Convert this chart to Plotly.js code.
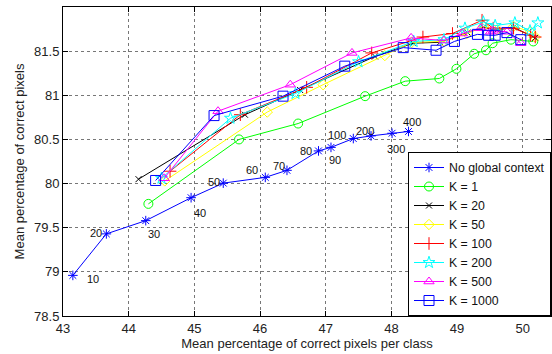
<!DOCTYPE html>
<html>
<head>
<meta charset="utf-8">
<script src="https://cdn.plot.ly/plotly-3.0.1.min.js"></script>
<style>html,body{margin:0;padding:0;background:#fff;}#chart{width:552px;height:354px;}</style>
</head>
<body>
<div id="chart"></div>
<script>
// ---- data ----
const ngcX = [43.15, 43.66, 44.26, 44.95, 45.44, 46.08, 46.41, 46.89, 47.08, 47.42, 47.69, 48.01, 48.26];
const ngcY = [78.96, 79.43, 79.58, 79.84, 80.005, 80.07, 80.15, 80.37, 80.41, 80.51, 80.54, 80.57, 80.59];
const ngcLabels = ['10', '20', '30', '40', '50', '60', '70', '80', '90', '100', '200', '300', '400'];

const k1X = [44.30, 45.68, 46.58, 47.60, 48.21, 48.73, 48.99, 49.26, 49.44, 49.54, 49.82, 50.16];
const k1Y = [79.77, 80.50, 80.68, 80.99, 81.16, 81.19, 81.30, 81.47, 81.51, 81.59, 81.63, 81.61];

const k20X = [44.15, 45.77, 46.61, 47.75, 48.33, 48.74, 49.16, 49.40, 49.61, 49.86, 50.19];
const k20Y = [80.05, 80.78, 81.06, 81.44, 81.59, 81.60, 81.71, 81.77, 81.74, 81.77, 81.65];

const k50X = [44.55, 46.11, 46.96, 47.90, 48.31, 48.80, 49.15, 49.40, 49.61, 49.86, 50.12, 50.19];
const k50Y = [80.03, 80.81, 81.12, 81.45, 81.60, 81.61, 81.70, 81.78, 81.74, 81.78, 81.72, 81.66];

const k100X = [44.63, 45.70, 46.71, 47.70, 48.48, 48.93, 49.38, 49.55, 49.86, 50.12, 50.19];
const k100Y = [80.14, 80.78, 81.09, 81.48, 81.66, 81.70, 81.85, 81.76, 81.76, 81.68, 81.66];

const k200X = [44.50, 45.55, 46.54, 47.50, 48.34, 48.80, 49.12, 49.40, 49.58, 49.88, 50.11, 50.23];
const k200Y = [80.06, 80.74, 81.02, 81.38, 81.61, 81.63, 81.76, 81.83, 81.79, 81.82, 81.73, 81.82];

const k500X = [44.54, 45.36, 46.46, 47.40, 48.30, 48.80, 49.08, 49.36, 49.51, 49.55, 49.76, 49.97];
const k500Y = [80.06, 80.82, 81.12, 81.48, 81.65, 81.62, 81.70, 81.76, 81.72, 81.73, 81.72, 81.59];

const k1000X = [44.41, 45.30, 46.35, 47.29, 48.18, 48.68, 48.96, 49.31, 49.48, 49.58, 49.76, 49.97];
const k1000Y = [80.035, 80.77, 80.99, 81.33, 81.54, 81.51, 81.61, 81.69, 81.68, 81.68, 81.71, 81.63];

const seriesNames = ['No global context', 'K = 1', 'K = 20', 'K = 50', 'K = 100', 'K = 200', 'K = 500', 'K = 1000'];
const xTicks = [43, 44, 45, 46, 47, 48, 49, 50];
const yTicks = [78.5, 79, 79.5, 80, 80.5, 81, 81.5, 82];

// ---- styles ----
const styles = [
  {c: '#0000ff', s: 'asterisk-open', z: 8},
  {c: '#00ff00', s: 'circle-open', z: 9},
  {c: '#000000', s: 'x-thin-open', z: 6},
  {c: '#ffff00', s: 'diamond-open', z: 8},
  {c: '#ff0000', s: 'cross-thin-open', z: 9},
  {c: '#00ffff', s: 'star-open', z: 9},
  {c: '#ff00ff', s: 'triangle-up-open', z: 9},
  {c: '#0000ff', s: 'square-open', z: 10}
];
const xs = [ngcX, k1X, k20X, k50X, k100X, k200X, k500X, k1000X];
const ys = [ngcY, k1Y, k20Y, k50Y, k100Y, k200Y, k500Y, k1000Y];

const traces = xs.map((x, i) => ({
  x: x, y: ys[i], name: seriesNames[i], type: 'scatter', mode: 'lines+markers',
  line: {color: styles[i].c, width: 1},
  marker: {symbol: styles[i].s, size: styles[i].z, color: styles[i].c, line: {color: styles[i].c, width: 1}}
}));

// label offsets in pixels [dx, dy(down)]
const labelOffsets = [[20, 4], [-10, -1], [8, 13], [9, 15], [-9, -1], [-13, -7], [-8, -4], [-12, 0], [4, 13], [-16, -4], [-6, -5], [4, 16], [4, -9]];
const annotations = ngcLabels.map((t, i) => ({
  x: ngcX[i], y: ngcY[i], xref: 'x', yref: 'y', text: t, showarrow: false,
  xshift: labelOffsets[i][0], yshift: -labelOffsets[i][1],
  font: {family: 'Liberation Sans, Arial, sans-serif', size: 11, color: '#111'}
}));

const layout = {
  width: 552, height: 354,
  margin: {l: 63, r: 1, t: 7, b: 38, pad: 0},
  paper_bgcolor: '#fff', plot_bgcolor: '#fff',
  font: {family: 'Liberation Sans, Arial, sans-serif', size: 13, color: '#222'},
  showlegend: true,
  legend: {
    x: 1, y: 0, xanchor: 'right', yanchor: 'bottom',
    bgcolor: '#fff', bordercolor: '#000', borderwidth: 1,
    font: {size: 12.3, color: '#111'}, tracegroupgap: 0, itemwidth: 30
  },
  xaxis: {
    range: [43, 50.43], tickvals: xTicks, ticktext: xTicks.map(String),
    showline: true, linecolor: '#000', linewidth: 1, mirror: 'all',
    ticks: 'inside', ticklen: 5, tickcolor: '#000',
    showgrid: true, gridcolor: '#777', griddash: 'dot', gridwidth: 1,
    zeroline: false, tickfont: {size: 13},
    title: {text: 'Mean percentage of correct pixels per class', font: {size: 13}, standoff: 4}
  },
  yaxis: {
    range: [78.5, 82], tickvals: yTicks, ticktext: yTicks.map(String),
    showline: true, linecolor: '#000', linewidth: 1, mirror: 'all',
    ticks: 'inside', ticklen: 5, tickcolor: '#000',
    showgrid: true, gridcolor: '#777', griddash: 'dot', gridwidth: 1,
    zeroline: false, tickfont: {size: 13},
    title: {text: 'Mean percentage of correct pixels', font: {size: 13}, standoff: 6}
  },
  annotations: annotations
};

Plotly.newPlot('chart', traces, layout, {displayModeBar: false, staticPlot: true});
</script>
</body>
</html>
